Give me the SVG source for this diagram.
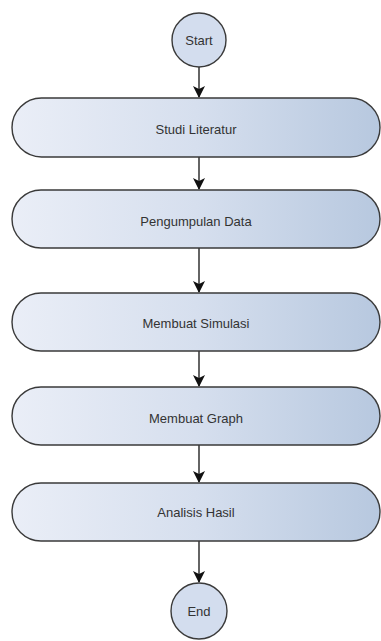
<svg xmlns="http://www.w3.org/2000/svg" width="381" height="641" viewBox="0 0 381 641">
  <defs>
    <linearGradient id="boxFill" x1="0" y1="0" x2="1" y2="0">
      <stop offset="0" stop-color="#eaeef7"/>
      <stop offset="0.5" stop-color="#d6dfee"/>
      <stop offset="1" stop-color="#b7c8df"/>
    </linearGradient>
    <marker id="arrow" viewBox="0 0 12 12" refX="11" refY="6" markerWidth="12" markerHeight="12" markerUnits="userSpaceOnUse" orient="auto">
      <path d="M0,0 L12,6 L0,12 L3,6 Z" fill="#111"/>
    </marker>
  </defs>
  <style>
    .box { fill: url(#boxFill); stroke: #3a3a3a; stroke-width: 1.4; }
    .term { fill: #d3ddee; stroke: #3a3a3a; stroke-width: 1.4; }
    .label { font-family: "Liberation Sans", Arial, sans-serif; font-size: 13px; fill: #333; text-anchor: middle; dominant-baseline: central; }
    .edge { stroke: #111; stroke-width: 1.3; fill: none; marker-end: url(#arrow); }
  </style>
  <rect width="381" height="641" fill="#ffffff"/>

  <g id="connectors">
    <line class="edge" x1="199" y1="67" x2="199" y2="97"/>
    <line class="edge" x1="199" y1="157" x2="199" y2="189"/>
    <line class="edge" x1="199" y1="248" x2="199" y2="292"/>
    <line class="edge" x1="199" y1="351" x2="199" y2="386"/>
    <line class="edge" x1="199" y1="445" x2="199" y2="482"/>
    <line class="edge" x1="199" y1="541" x2="199" y2="582"/>
  </g>

  <g id="start">
    <circle class="term" cx="199" cy="40" r="27"/>
    <text class="label" x="199" y="40">Start</text>
  </g>
  <g id="studi-literatur">
    <rect class="box" x="12" y="98" width="368" height="59" rx="29.5"/>
    <text class="label" x="196" y="129">Studi Literatur</text>
  </g>
  <g id="pengumpulan-data">
    <rect class="box" x="12" y="190" width="368" height="58" rx="29"/>
    <text class="label" x="196" y="221">Pengumpulan Data</text>
  </g>
  <g id="membuat-simulasi">
    <rect class="box" x="12" y="293" width="368" height="58" rx="29"/>
    <text class="label" x="196" y="323">Membuat Simulasi</text>
  </g>
  <g id="membuat-graph">
    <rect class="box" x="12" y="387" width="368" height="58" rx="29"/>
    <text class="label" x="196" y="418">Membuat Graph</text>
  </g>
  <g id="analisis-hasil">
    <rect class="box" x="12" y="483" width="368" height="58" rx="29"/>
    <text class="label" x="196" y="512">Analisis Hasil</text>
  </g>
  <g id="end">
    <circle class="term" cx="199" cy="611" r="28"/>
    <text class="label" x="199" y="611">End</text>
  </g>
</svg>
